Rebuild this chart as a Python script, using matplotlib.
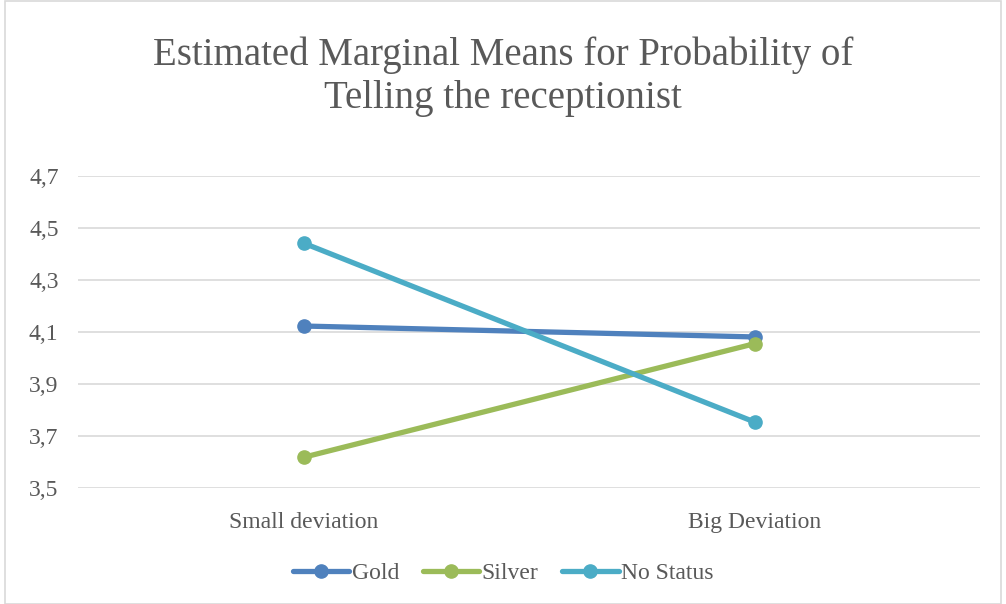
import matplotlib.pyplot as plt
from matplotlib.patches import Rectangle

categories = ["Small deviation", "Big Deviation"]
series_names = ["Gold", "Silver", "No Status"]
gold = [4.123, 4.081]
silver = [3.618, 4.055]
no_status = [4.442, 3.754]
yticks = [3.5, 3.7, 3.9, 4.1, 4.3, 4.5, 4.7]
ytick_labels = ["3,5", "3,7", "3,9", "4,1", "4,3", "4,5", "4,7"]
colors = ["#4F81BD", "#9BBB59", "#4BACC6"]

text_color = "#595959"
serif = ["Liberation Serif", "DejaVu Serif"]


def main():
    fig = plt.figure(figsize=(10.06, 6.04), dpi=100)
    ax = fig.add_axes([78 / 1006, 1 - 488 / 604, 902 / 1006, 312 / 604])

    x = list(range(len(categories)))
    for vals, name, c in zip([gold, silver, no_status], series_names, colors):
        ax.plot(x, vals, color=c, lw=3.8, marker="o", ms=9.5, label=name,
                solid_capstyle="round")

    ax.set_xlim(-0.5, 1.5)
    ax.set_ylim(3.5, 4.7)
    ax.set_yticks(yticks)
    ax.set_yticklabels(ytick_labels, family=serif, fontsize=17, color=text_color)
    ax.set_xticks(x)
    ax.set_xticklabels(categories, family=serif, fontsize=17, color=text_color)
    ax.tick_params(length=0)
    ax.tick_params(axis="x", pad=17)
    ax.tick_params(axis="y", pad=14)
    ax.grid(axis="y", color="#D9D9D9", lw=1.2)
    ax.set_axisbelow(True)
    for s in ax.spines.values():
        s.set_visible(False)

    fig.text(0.5, 1 - 77 / 604, "Estimated Marginal Means for Probability of\nTelling the receptionist",
             ha="center", va="center", family=serif, fontsize=28, color=text_color,
             linespacing=1.22)

    leg = fig.legend(loc="center", bbox_to_anchor=(0.5, 1 - 573 / 604), ncol=3,
                     frameon=False, handlelength=2.4, handletextpad=0.1,
                     columnspacing=1.0, prop={"family": serif, "size": 17})
    for t in leg.get_texts():
        t.set_color(text_color)

    fig.patches.append(Rectangle((0.005, 0.0), 0.99, 0.998, transform=fig.transFigure,
                                 fill=False, ec="#D9D9D9", lw=1.2))

    plt.savefig("out.png", dpi=100)


if __name__ == "__main__":
    main()
